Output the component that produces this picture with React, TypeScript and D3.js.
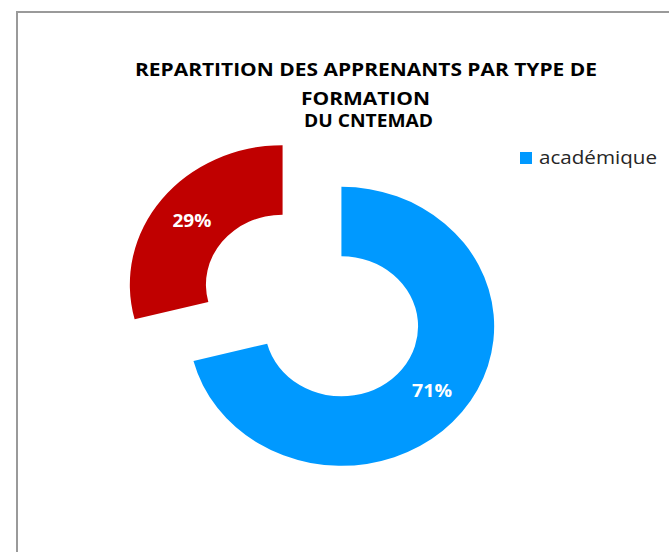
import React from "react";
import * as d3 from "d3";

const categories = ["académique", "professionnelle"];
const values = [71, 29];
const colors = ["#0099FF", "#C00000"];
const titleLines = ["REPARTITION DES APPRENANTS PAR TYPE DE", "FORMATION", "DU CNTEMAD"];
const legendItems = ["académique"];

const W = 669;
const H = 552;

export default function App() {
  const cx = 312;
  const cy = 305.5;
  const sx = 1.095;
  const outerR = 139.5;
  const innerR = 70;
  const explode = 34;

  const pie = d3
    .pie<number>()
    .sort(null)
    .value((d) => d)
    .startAngle(0)
    .endAngle(2 * Math.PI);
  const arcs = pie(values);
  const arcGen = d3.arc<d3.PieArcDatum<number>>().innerRadius(innerR).outerRadius(outerR);
  const total = d3.sum(values);

  const titleSpecs = [
    { cx: 366, y: 76, len: 462 },
    { cx: 365.5, y: 105, len: 129 },
    { cx: 368.5, y: 127, len: 129 },
  ];
  const labelLens = [40, 39];

  return (
    <svg
      width={W}
      height={H}
      style={{ position: "absolute", left: 0, top: 0, background: "#fff" }}
    >
      <rect x={0} y={0} width={W} height={H} fill="#fff" />
      <path d={`M17,${H} L17,12 L${W},12`} fill="none" stroke="#9a9a9a" strokeWidth={2} />
      {titleLines.map((t, i) => (
        <text
          key={i}
          x={titleSpecs[i].cx}
          y={titleSpecs[i].y}
          textAnchor="middle"
          fontFamily="'Open Sans', sans-serif"
          fontWeight="bold"
          fontSize={18.5}
          fill="#000"
          textLength={titleSpecs[i].len}
          lengthAdjust="spacingAndGlyphs"
        >
          {t}
        </text>
      ))}
      {arcs.map((a, i) => {
        const mid = (a.startAngle + a.endAngle) / 2;
        const ox = Math.sin(mid) * explode * sx;
        const oy = -Math.cos(mid) * explode;
        return (
          <g key={categories[i]} transform={`translate(${cx + ox},${cy + oy}) scale(${sx},1)`}>
            <path d={arcGen(a) || ""} fill={colors[i]} />
          </g>
        );
      })}
      {arcs.map((a, i) => {
        const mid = (a.startAngle + a.endAngle) / 2;
        const ox = Math.sin(mid) * explode * sx;
        const oy = -Math.cos(mid) * explode;
        const [px, py] = arcGen.centroid(a);
        const pct = Math.round((values[i] / total) * 100) + "%";
        return (
          <text
            key={"l" + i}
            x={cx + ox + px * sx}
            y={cy + oy + py + 6.5}
            textAnchor="middle"
            fontFamily="'Open Sans', sans-serif"
            fontWeight="bold"
            fontSize={18}
            fill="#fff"
            textLength={labelLens[i]}
            lengthAdjust="spacingAndGlyphs"
          >
            {pct}
          </text>
        );
      })}
      {legendItems.map((l, i) => (
        <g key={l}>
          <rect x={520} y={152 + i * 24} width={12} height={12} fill={colors[i]} />
          <text
            x={539}
            y={164 + i * 24}
            fontFamily="'Open Sans', sans-serif"
            fontSize={18}
            fill="#262626"
            textLength={118}
            lengthAdjust="spacingAndGlyphs"
          >
            {l}
          </text>
        </g>
      ))}
    </svg>
  );
}
